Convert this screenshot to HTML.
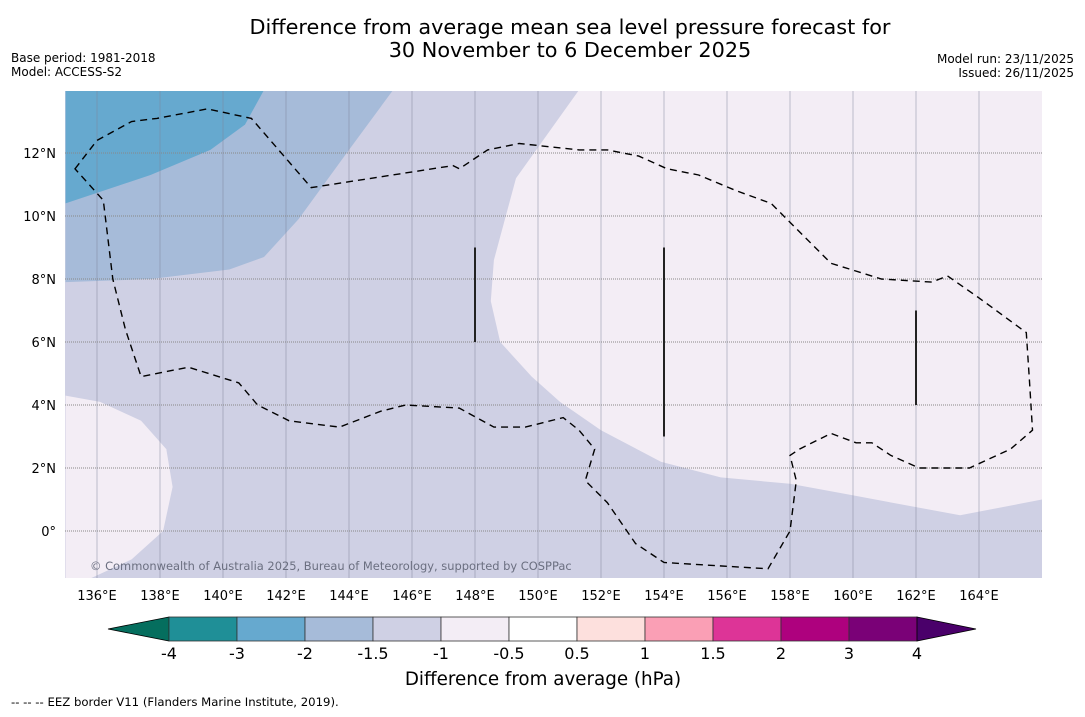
<!DOCTYPE html>
<html><head><meta charset="utf-8"><style>
body{margin:0;background:#fff;width:1085px;height:713px;overflow:hidden;font-family:"DejaVu Sans","Liberation Sans",sans-serif}
</style></head><body>
<svg width="1085" height="713" viewBox="0 0 1085 713">
<text x="570" y="34" text-anchor="middle" font-size="20.8">Difference from average mean sea level pressure forecast for</text>
<text x="570" y="57" text-anchor="middle" font-size="20.8">30 November to 6 December 2025</text>
<text x="11" y="62" font-size="12">Base period: 1981-2018</text>
<text x="11" y="76" font-size="12">Model: ACCESS-S2</text>
<text x="1074" y="63" font-size="12" text-anchor="end">Model run: 23/11/2025</text>
<text x="1074" y="77" font-size="12" text-anchor="end">Issued: 26/11/2025</text>
<defs><clipPath id="mc"><rect x="65" y="91" width="977" height="487"/></clipPath></defs>
<g id="map" clip-path="url(#mc)"></g>
<g id="ticks"></g>
<g id="cbar"></g>
<text x="543" y="685" text-anchor="middle" font-size="18.3">Difference from average (hPa)</text>
<text x="11" y="706" font-size="11.7">--  --  -- EEZ border V11 (Flanders Marine Institute, 2019).</text>
</svg>
<script>
const lonTicks=[136,138,140,142,144,146,148,150,152,154,156,158,160,162,164];
const latTicks=[0,2,4,6,8,10,12];
const levels=["-4","-3","-2","-1.5","-1","-0.5","0.5","1","1.5","2","3","4"];
const levelColors=["#1f8f97","#66a9cf","#a6bbd9","#cfd0e4","#f3edf5","#ffffff","#fde0dd","#fa9fb5","#dd3497","#ae017e","#7a0177"];
// contour regions in [lon,lat]
const regionLightE=[[151.3,14],[149.3,11.2],[148.6,8.6],[148.5,7.3],[148.8,6],[149.8,4.9],[150.7,4.1],[152,3.2],[153.9,2.2],[155.8,1.7],[158,1.5],[159.9,1.15],[163.4,0.5],[166,1],[166,14]];
const regionLightW=[[135,4.3],[136.1,4.1],[137.4,3.5],[138.2,2.6],[138.4,1.4],[138.1,0],[137.1,-0.9],[135.8,-1.5],[135,-1.5]];
const regionBlue2=[[135,14],[145.4,14],[144,12.1],[142.4,9.9],[141.3,8.7],[140.2,8.3],[137.7,8],[135,7.9]];
const regionBlue3=[[135,14],[141.3,14],[140.7,12.9],[139.6,12.1],[137.7,11.3],[135,10.4]];
const eez=[[135.3,11.5],[136,12.4],[137.1,13],[137.9,13.1],[139.5,13.4],[140.9,13.1],[142.8,10.9],[147.3,11.6],[147.5,11.5],[148.4,12.1],[149.4,12.3],[151.3,12.1],[152.2,12.1],[153.2,11.9],[154.1,11.5],[155.1,11.3],[156.3,10.8],[157.4,10.4],[158.2,9.6],[159.3,8.5],[160.9,8],[162.5,7.9],[163,8.1],[164,7.4],[165.5,6.3],[165.6,4.8],[165.7,3.2],[165,2.6],[163.7,2],[162.1,2],[161.2,2.4],[160.6,2.8],[160.1,2.8],[159.3,3.1],[158.3,2.6],[158,2.4],[158.2,1.6],[158,0],[157.3,-1.2],[154,-1],[153.1,-0.4],[152.2,0.9],[151.5,1.6],[151.8,2.6],[151.3,3.2],[150.8,3.6],[149.6,3.3],[148.6,3.3],[147.5,3.9],[145.8,4],[145,3.8],[143.7,3.3],[142.1,3.5],[141.1,4],[140.5,4.7],[138.9,5.2],[137.4,4.9],[136.9,6.4],[136.5,8],[136.2,10.5]];
const meridians=[[148,6,9],[154,3,9],[162,4,7]];
const X=lon=>97+(lon-136)*31.5, Y=lat=>531-lat*31.5;
const NS="http://www.w3.org/2000/svg";
function mk(t,a,p){const e=document.createElementNS(NS,t);for(const k in a)e.setAttribute(k,a[k]);p.appendChild(e);return e;}
const map=document.getElementById('map');
const pts=a=>a.map(p=>X(p[0]).toFixed(1)+','+Y(p[1]).toFixed(1)).join(' ');
let bg=mk('rect',{x:65,y:91,width:977,height:487,fill:levelColors[3]},map);

[[regionBlue2,levelColors[2],'region-minus-2'],[regionBlue3,levelColors[1],'region-minus-3'],[regionLightE,levelColors[4],'region-east-minus-1'],[regionLightW,levelColors[4],'region-west-minus-1']].forEach(r=>{
 const e=mk('polygon',{points:pts(r[0]),fill:r[1]},map);
 
 
});
lonTicks.forEach(l=>{const e=mk('line',{x1:X(l),x2:X(l),y1:91,y2:578,stroke:'#7d8299','stroke-width':0.8,'stroke-opacity':0.6},map);
 
 });
latTicks.forEach(l=>{const e=mk('line',{x1:65,x2:1042,y1:Y(l),y2:Y(l),stroke:'#888','stroke-width':1,'stroke-dasharray':'1,1'},map);
 
 });
let ez=mk('polygon',{points:pts(eez),fill:'none',stroke:'#000','stroke-width':1.4,'stroke-dasharray':'7,5'},map);

meridians.forEach(m=>{const e=mk('line',{x1:X(m[0]),x2:X(m[0]),y1:Y(m[2]),y2:Y(m[1]),stroke:'#222','stroke-width':2},map);
 
 });
let cp=mk('text',{x:90,y:570,'font-size':11.45,fill:'#6b6f80'},map);cp.textContent='© Commonwealth of Australia 2025, Bureau of Meteorology, supported by COSPPac';

const tk=document.getElementById('ticks');
lonTicks.forEach(l=>{const t=mk('text',{x:X(l),y:600,'text-anchor':'middle','font-size':13},tk);t.textContent=l+'°E';
 });
latTicks.forEach(l=>{const t=mk('text',{x:56,y:Y(l)+5,'text-anchor':'end','font-size':13},tk);t.textContent=l===0?'0°':l+'°N';
 });
const cb=document.getElementById('cbar');const x0=169,w=68,y0=617,h=24;
let lt=mk('polygon',{points:`${x0},${y0} 108,${y0+h/2} ${x0},${y0+h}`,fill:'#056e5e',stroke:'#000','stroke-width':0.8},cb);

levelColors.forEach((c,i)=>{const r=mk('rect',{x:x0+i*w,y:y0,width:w,height:h,fill:c,stroke:'#333','stroke-width':0.8},cb);
 });
let rt=mk('polygon',{points:`${x0+11*w},${y0} 976,${y0+h/2} ${x0+11*w},${y0+h}`,fill:'#4a006a',stroke:'#000','stroke-width':0.8},cb);

levels.forEach((s,i)=>{const t=mk('text',{x:x0+i*w,y:659,'text-anchor':'middle','font-size':16},cb);t.textContent=s;
 });
</script>
</body></html>
